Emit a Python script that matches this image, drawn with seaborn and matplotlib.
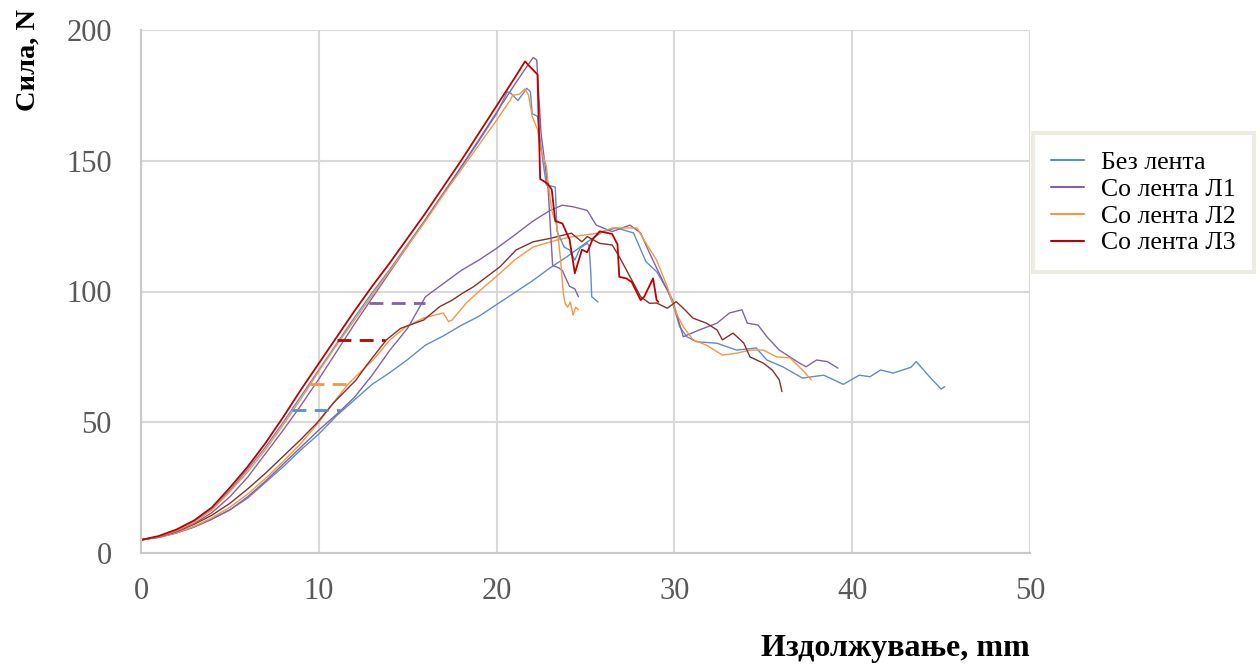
import matplotlib
matplotlib.use("Agg")
import matplotlib.pyplot as plt
from matplotlib.lines import Line2D
import seaborn as sns

# ---------------- data ----------------
series_names = ["Без лента", "Со лента Л1", "Со лента Л2", "Со лента Л3"]

# Без лента (blue)
blue_steep_x = [0, 1, 2, 3, 4, 5, 6, 7, 8, 9, 10, 11, 12, 13, 14, 15, 16, 17, 18, 19, 20, 20.6, 20.8, 21.2, 21.7, 21.9,
                22.0, 22.3, 22.4, 22.6, 22.8, 23.3, 23.4, 23.8, 24.1, 24.4, 24.7, 25.1, 25.2, 25.3, 25.35, 25.7]
blue_steep_y = [5, 6.3, 8.7, 12, 16.8, 24, 32, 40.5, 50, 60, 70, 80, 90, 99.5, 108.5, 118, 127.5, 137.5, 147.5, 157.5,
                168, 176.4, 175.8, 173, 177.7, 176.4, 168, 167, 160.6, 150, 140.7, 140, 123, 117, 115.9, 112, 116.6,
                118.5, 117.5, 107, 98, 96]
blue_shallow_x = [0, 1, 2, 3, 4, 5, 6, 7, 8, 9, 10, 11, 12, 13, 14, 15, 16, 17, 18, 19, 20, 21, 22, 23, 24, 25, 26,
                  26.75, 27.7, 28.4, 29.0, 29.6, 29.9, 30.3, 30.7, 31.25, 32.4, 33.5, 34.6, 35.2, 36.1, 37.2, 38.4,
                  39.5, 40.4, 41.0, 41.6, 42.3, 43.3, 43.6, 44.4, 45.0, 45.2]
blue_shallow_y = [5, 6, 7.7, 10, 13, 16.5, 21, 27, 33, 39.5, 45.5, 52.5, 58.5, 64.5, 69, 74, 79.5, 83, 87, 90.5, 95,
                  99.5, 104, 109, 113.5, 118.5, 123, 124.3, 122.4, 111.4, 107.6, 100.6, 95.6, 86.5, 82.7, 80.8, 80.2,
                  77.6, 78.4, 73.8, 71.2, 66.9, 68, 64.5, 68, 67.4, 70, 68.8, 71, 73.2, 67, 62.7, 63.6]

# Со лента Л1 (purple)
purple_steep_x = [0, 1, 2, 3, 4, 5, 6, 7, 8, 9, 10, 11, 12, 13, 14, 15, 16, 17, 18, 19, 20, 21, 21.7, 22.06, 22.26,
                  22.3, 22.5, 22.9, 23.15, 23.5, 23.7, 24.1, 24.4, 24.6]
purple_steep_y = [5, 6.2, 8.3, 11.3, 15.5, 21.5, 29, 38, 47, 56.5, 66.5, 77, 87.5, 97.5, 107.5, 117.5, 127.5, 137.5,
                  147.5, 158, 168.5, 179, 186, 189.5, 188.5, 183.5, 160.5, 139, 110, 109, 108, 102, 101, 98]
purple_shallow_x = [0, 1, 2, 3, 4, 5, 6, 7, 8, 9, 10, 11, 12, 13, 14, 15, 16, 17, 18, 19, 20, 21, 22, 23, 23.7, 24.3,
                    25.1, 25.6, 26.5, 27.5, 28.1, 28.6, 29.4, 29.9, 30.5, 31.4, 32.4, 33.1, 33.8, 34.1, 34.7, 35.2,
                    35.9, 36.9, 37.4, 38.0, 38.6, 39.2]
purple_shallow_y = [5, 6, 7.7, 10, 13, 16.5, 21.5, 27.5, 34, 40.5, 47, 53, 59.5, 68, 77.6, 86, 98, 103, 108, 112,
                    116.5, 121.5, 126.7, 131, 133, 132.4, 131, 125.4, 122.9, 125.4, 122.4, 114.7, 103.3, 96.7, 82.7,
                    85.3, 87.9, 91.8, 93, 87.9, 87.2, 82.7, 77.6, 73.2, 71.2, 73.8, 73.2, 70.7]

# Со лента Л2 (orange)
orange_steep_x = [0, 1, 2, 3, 4, 5, 6, 7, 8, 9, 10, 11, 12, 13, 14, 15, 16, 17, 18, 19, 20, 20.75, 20.9, 21.3, 21.6,
                  21.8, 22.0, 22.3, 22.5, 22.8, 22.9, 23.1, 23.4, 23.6, 23.75, 23.85, 24.0, 24.15, 24.3, 24.45, 24.6]
orange_steep_y = [5, 6.3, 8.6, 11.8, 16.5, 23.5, 31, 39.5, 49, 59, 69.5, 79.5, 89, 98.5, 108, 117.5, 127, 137, 146.5,
                  156, 165.5, 173, 175, 175.5, 177.5, 175, 167, 162, 154, 148, 141.5, 131, 124.8, 112, 99.4, 95.5, 94,
                  96, 91, 94, 93]
orange_shallow_x = [0, 1, 2, 3, 4, 5, 6, 7, 8, 9, 10, 11, 11.6, 12, 13.05, 14, 14.9, 15.9, 17.0, 17.3, 17.5, 18.3,
                    19.1, 20.2, 21, 22.05, 23.4, 24.3, 25.8, 26.5, 27.9, 28.4, 29.0, 29.6, 30.1, 30.5, 31.05, 31.8,
                    32.7, 33.5, 34.25, 35.0, 35.75, 36.5, 37.2, 37.7]
orange_shallow_y = [5, 6, 7.8, 10.2, 13.5, 17.5, 22.5, 28.5, 35, 42, 50, 59, 64.2, 67, 73.8, 81.5, 86.5, 89.9, 91.8,
                    88.5, 89.1, 95.6, 100.6, 107, 112, 117, 119.7, 121, 122.4, 124.3, 124.3, 118.5, 112, 101.8, 91.8,
                    86.5, 81.5, 79.5, 75.7, 76.4, 77.6, 77.6, 75, 74.6, 70, 66.2]

# Со лента Л3 (red / dark red)
red_steep_x = [0, 1, 2, 3, 4, 5, 6, 7, 8, 9, 10, 11, 12, 13, 14, 15, 16, 17, 18, 19, 20, 21, 21.6, 21.8, 22.3, 22.45,
               22.7, 22.9, 23.1, 23.3, 23.7, 24.1, 24.4, 24.8, 25.1, 25.4, 25.8, 26.5, 26.8, 26.9, 27.3, 27.6, 28.1,
               28.3, 28.8, 29.0, 29.1]
red_steep_y = [5, 6.5, 9, 12.5, 17.5, 25, 33, 42, 52, 62.5, 72.5, 82.5, 92.5, 102, 111, 120.5, 130, 140, 150, 160.5,
               171, 181.5, 188, 186.5, 183, 143, 142, 141, 139, 127, 126, 120, 107, 116, 115, 120, 123, 122, 118,
               105.6, 105, 103.6, 96.7, 98, 105, 96.7, 96]
red_shallow_x = [0, 1, 2, 3, 4, 5, 6, 7, 8, 9, 9.88, 10.8, 12.1, 12.7, 13.8, 14.6, 15.9, 16.8, 17.5, 18.1, 18.7, 20.2,
                 21.1, 22.05, 23.0, 24.2, 24.8, 25.1, 25.8, 26.5, 26.9, 27.5, 28.1, 28.6, 29.0, 29.6, 30.1, 30.5,
                 31.05, 31.8, 32.4, 32.7, 33.3, 33.9, 34.25, 35.0, 35.5, 35.9, 36.05]
red_shallow_y = [5, 6.2, 8.2, 11, 14.5, 19, 24.5, 30.5, 37, 43.5, 49.6, 57.2, 66.2, 71.9, 81.5, 85.9, 89.1, 94.2, 96.7,
                 99.4, 101.8, 109.5, 115.9, 119, 120.3, 122.3, 119, 121, 118.4, 117.8, 113.3, 105.7, 98, 95.5, 95.6,
                 93.6, 96.1, 93.6, 89.8, 87.9, 85.3, 81.5, 84.1, 80.3, 75, 72.6, 70, 66.2, 61.7]

# horizontal dashed markers (one per series)
dash_x_start = [8.5, 12.8, 9.5, 11.0]
dash_x_end = [11.2, 16.0, 11.65, 13.7]
dash_y = [54.5, 95.7, 64.5, 81.5]

x_ticks = [0, 10, 20, 30, 40, 50]
y_ticks = [0, 50, 100, 150, 200]

# ---------------- style ----------------
sns.set_theme(style="white")
plt.rcParams["font.family"] = ["Liberation Serif", "DejaVu Serif"]

colors = ["#5B8DCF", "#8064A2", "#F79646", "#C00000"]
shallow_colors = ["#5B8DCF", "#8064A2", "#F79646", "#83302B"]

fig = plt.figure(figsize=(12.6, 6.7), dpi=100)
ax = fig.add_axes([141 / 1260, 117 / 670, 889 / 1260, 523 / 670])

steep = [(blue_steep_x, blue_steep_y), (purple_steep_x, purple_steep_y),
         (orange_steep_x, orange_steep_y), (red_steep_x, red_steep_y)]
shallow = [(blue_shallow_x, blue_shallow_y), (purple_shallow_x, purple_shallow_y),
           (orange_shallow_x, orange_shallow_y), (red_shallow_x, red_shallow_y)]

for i in range(4):
    sx, sy = shallow[i]
    sns.lineplot(x=sx, y=sy, ax=ax, color=shallow_colors[i], linewidth=1.0, sort=False,
                 estimator=None, legend=False)
for i in range(4):
    sx, sy = steep[i]
    sns.lineplot(x=sx, y=sy, ax=ax, color=colors[i], linewidth=1.3 if i == 3 else 1.0,
                 sort=False, estimator=None, legend=False)
for i in range(4):
    sns.lineplot(x=[dash_x_start[i], dash_x_end[i]], y=[dash_y[i], dash_y[i]], ax=ax,
                 color=colors[i], linewidth=2.0, linestyle=(0, (5, 3)), sort=False,
                 estimator=None, legend=False)

ax.set_xlim(0, 50)
ax.set_ylim(0, 200)
ax.set_xticks(x_ticks)
ax.set_yticks(y_ticks)
ax.grid(True, color="#D9D9D9", linewidth=1.5)
ax.set_axisbelow(True)
for s in ["top", "right"]:
    ax.spines[s].set_visible(False)
for s in ["left", "bottom"]:
    ax.spines[s].set_color("#C9C9C9")
    ax.spines[s].set_linewidth(1.5)

ax.tick_params(axis="both", length=0, labelsize=22, labelcolor="#595959")
ax.tick_params(axis="y", pad=21)
ax.tick_params(axis="x", pad=17)

ax.set_xlabel("Издолжување, mm", fontsize=23, fontweight="bold", color="black", loc="right")
ax.xaxis.set_label_coords(1.0, -0.155)
ax.set_ylabel("Сила, N", fontsize=20.5, fontweight="bold", color="black", loc="top")
ax.yaxis.set_label_coords(-0.113, 1.04)

handles = [Line2D([0], [0], color=c, linewidth=1.5) for c in colors]
leg = ax.legend(handles, series_names, loc="upper left", bbox_to_anchor=(1033 / 1260, 537 / 670),
                bbox_transform=fig.transFigure, borderaxespad=0, fontsize=18.5, frameon=True,
                fancybox=False, handlelength=1.3, labelspacing=0.15, handletextpad=0.65,
                borderpad=0.7)
leg.get_frame().set_edgecolor("#EAE6DA")
leg.get_frame().set_linewidth(3)
for t in leg.get_texts():
    t.set_color("black")

fig.savefig("out.png", dpi=100)
